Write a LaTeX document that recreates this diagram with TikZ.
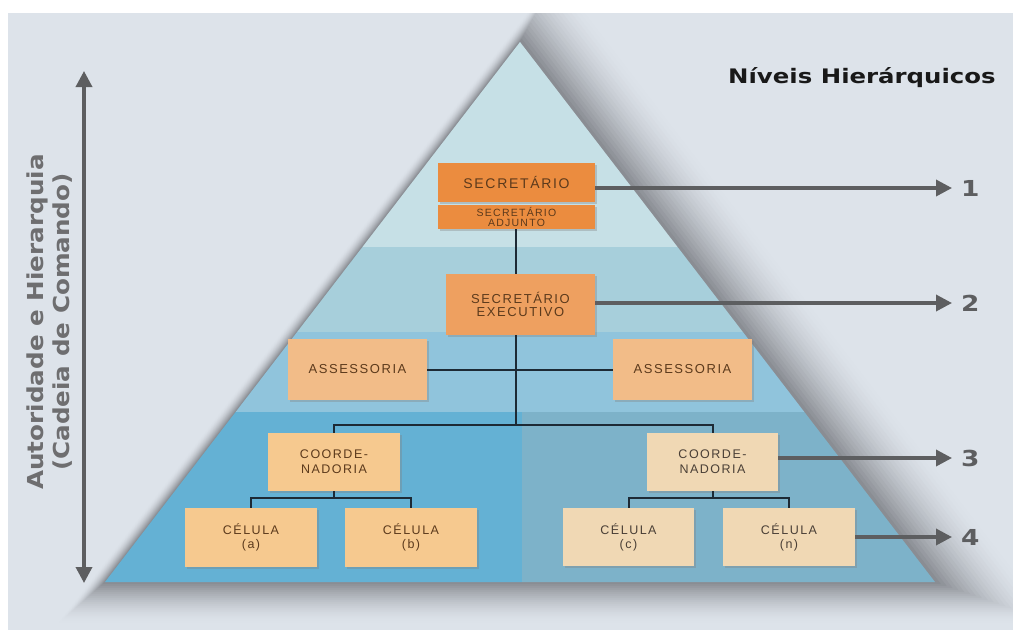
\documentclass[tikz,border=0pt]{standalone}
\usepackage{fontspec}
\setmainfont{Liberation Sans}
\newfontfamily\boxfont[LetterSpace=12]{Liberation Sans}
\newfontfamily\headfont{DejaVu Sans}
\usetikzlibrary{arrows.meta,shadows}

\definecolor{canvasgray}{HTML}{DDE3EA}
\definecolor{shadowcol}{HTML}{83868C}
\definecolor{bandA}{HTML}{C6E0E6}
\definecolor{bandB}{HTML}{A7CFDB}
\definecolor{bandC}{HTML}{90C4DC}
\definecolor{bandDL}{HTML}{64B1D4}
\definecolor{bandDR}{HTML}{7DB2C9}
\definecolor{orangeA}{HTML}{EB8C3F}
\definecolor{orangeB}{HTML}{EEA060}
\definecolor{orangeC}{HTML}{F2BC88}
\definecolor{orangeD}{HTML}{F6C98F}
\definecolor{paleD}{HTML}{F0D8B4}
\definecolor{boxtext}{HTML}{5C3A1C}
\definecolor{paletext}{HTML}{4A3F36}
\definecolor{linkcol}{HTML}{1D2A35}
\definecolor{arrowgray}{HTML}{5D5E60}
\definecolor{axisgray}{HTML}{6E6E70}

\begin{document}
\begin{tikzpicture}[x=1pt,y=-1pt,
  box/.style={inner sep=0pt, align=center, text=boxtext,
    drop shadow={shadow xshift=1.5pt, shadow yshift=-1.5pt, opacity=0.35}},
  link/.style={draw=linkcol, line width=2pt},
  numarrow/.style={draw=arrowgray, line width=3.5pt,
    -{Triangle[length=16pt,width=16pt]}},
  numlabel/.style={anchor=west, inner xsep=9pt, inner ysep=0pt, text=arrowgray,
    font=\headfont\bfseries\fontsize{22}{24}\selectfont}]

\useasboundingbox (0,0) rectangle (1013,630);
\fill[white] (0,0) rectangle (1013,630);
\fill[canvasgray] (8,13) rectangle (1013,630);

% soft shadow round the pyramid: nested outlines, lightest outside
\begin{scope}
  \clip (8,13) rectangle (1013,630);
  \foreach \d in {40,38,...,2} {
    \pgfmathsetmacro\mix{100*(1-\d/42)^1.6}
    \fill[shadowcol!\mix!canvasgray]
      ({520+0.9*\d}, {42-1.641*\d})
      -- ({105-2.029*\d+0.9*\d}, {582+\d})
      -- ({935+2.029*\d+0.9*\d}, {582+\d}) -- cycle;
  }
\end{scope}

% pyramid bands
\coordinate (apex) at (520,42);
\coordinate (baseL) at (105,582);
\coordinate (baseR) at (935,582);
\begin{scope}
  \clip (apex) -- (baseL) -- (baseR) -- cycle;
  \fill[bandA] (0,0) rectangle (1013,247);
  \fill[bandB] (0,247) rectangle (1013,332);
  \fill[bandC] (0,332) rectangle (1013,412);
  \fill[bandDL] (0,412) rectangle (522,600);
  \fill[bandDR] (522,412) rectangle (1013,600);
\end{scope}

% boxes
\node[box, fill=orangeA, minimum width=157pt, minimum height=39pt,
  font=\boxfont\fontsize{14}{16}\selectfont] (secr) at (516.5,182.5) {SECRETÁRIO};
\node[box, fill=orangeA, minimum width=157pt, minimum height=24pt,
  font=\boxfont\fontsize{10.5}{9.5}\selectfont] (adj) at (516.5,217) {SECRETÁRIO\\ADJUNTO};
\node[box, fill=orangeB, minimum width=149pt, minimum height=61pt,
  font=\boxfont\fontsize{13}{12.5}\selectfont] (exec) at (520.5,304.5) {SECRETÁRIO\\EXECUTIVO};
\node[box, fill=orangeC, minimum width=139pt, minimum height=61pt,
  font=\boxfont\fontsize{13}{15}\selectfont] (assL) at (357.5,369.5) {ASSESSORIA};
\node[box, fill=orangeC, minimum width=139pt, minimum height=61pt,
  font=\boxfont\fontsize{13}{15}\selectfont] (assR) at (682.5,369.5) {ASSESSORIA};
\node[box, fill=orangeD, minimum width=132pt, minimum height=58pt,
  font=\boxfont\fontsize{12.5}{15}\selectfont] (coordL) at (334,462) {COORDE-\\NADORIA};
\node[box, fill=orangeD, minimum width=132pt, minimum height=59pt,
  font=\boxfont\fontsize{12.5}{14}\selectfont] (cellA) at (251,537.5) {CÉLULA\\(a)};
\node[box, fill=orangeD, minimum width=132pt, minimum height=59pt,
  font=\boxfont\fontsize{12.5}{14}\selectfont] (cellB) at (411,537.5) {CÉLULA\\(b)};
\node[box, fill=paleD, text=paletext, minimum width=131pt, minimum height=58pt,
  font=\boxfont\fontsize{12.5}{15}\selectfont] (coordR) at (712.5,462) {COORDE-\\NADORIA};
\node[box, fill=paleD, text=paletext, minimum width=131pt, minimum height=58pt,
  font=\boxfont\fontsize{12.5}{14}\selectfont] (cellC) at (628.5,537) {CÉLULA\\(c)};
\node[box, fill=paleD, text=paletext, minimum width=132pt, minimum height=58pt,
  font=\boxfont\fontsize{12.5}{14}\selectfont] (cellN) at (789,537) {CÉLULA\\(n)};

% organisation lines
\coordinate (hub) at (516,425);
\coordinate (splitL) at (334,498);
\coordinate (splitR) at (712.5,498);
\draw[link] (adj.south -| hub) -- (exec.north -| hub);
\draw[link] (exec.south -| hub) -- (hub);
\draw[link] (assL.east) -- (assR.west);
\draw[link] (coordL.north) |- (hub) -| (coordR.north);
\draw[link] (coordL.south) -- (splitL);
\draw[link] (cellA.north) |- (splitL) -| (cellB.north);
\draw[link] (coordR.south) -- (splitR);
\draw[link] (cellC.north) |- (splitR) -| (cellN.north);

% hierarchy levels
\node[numlabel] (lv1) at (952,188) {\scalebox{1.2}[1]{1}};
\node[numlabel] (lv2) at (952,303) {\scalebox{1.2}[1]{2}};
\node[numlabel] (lv3) at (952,458) {\scalebox{1.2}[1]{3}};
\node[numlabel] (lv4) at (952,537) {\scalebox{1.2}[1]{4}};
\draw[numarrow] (secr.east |- lv1.west) -- (lv1.west);
\draw[numarrow] (exec.east |- lv2.west) -- (lv2.west);
\draw[numarrow] (coordR.east |- lv3.west) -- (lv3.west);
\draw[numarrow] (cellN.east |- lv4.west) -- (lv4.west);

% title
\node[anchor=base west, inner sep=0pt, text=black!90,
  font=\headfont\bfseries\fontsize{20}{24}\selectfont] (title) at (728,83)
  {\scalebox{1.22}[1]{Níveis Hierárquicos}};

% authority axis
\coordinate (axtop) at (84,71);
\coordinate (axbot) at (84,583);
\draw[draw=arrowgray, line width=3.5pt,
  {Triangle[length=16pt,width=16pt]}-{Triangle[length=16pt,width=16pt]}]
  (axtop) -- (axbot);
\node[rotate=90, align=center, inner sep=0pt, text=axisgray,
  font=\headfont\bfseries\fontsize{22}{26}\selectfont] (axis) at (50,322)
  {\scalebox{1.12}[1]{Autoridade e Hierarquia}\\\scalebox{1.12}[1]{(Cadeia de Comando)}};

\end{tikzpicture}
\end{document}
